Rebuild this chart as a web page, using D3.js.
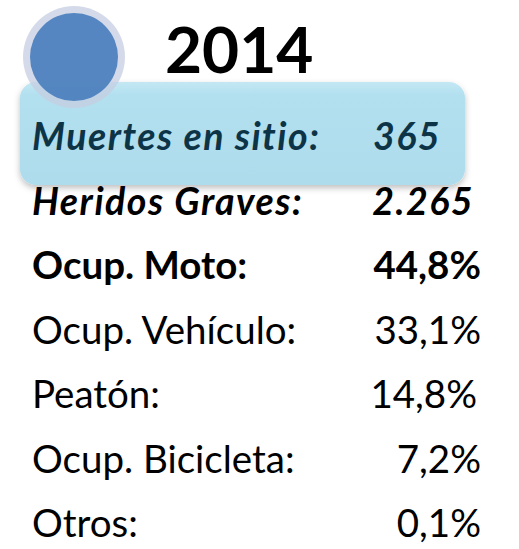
<!DOCTYPE html>
<html>
<head>
<meta charset="utf-8">
<script src="https://cdn.jsdelivr.net/npm/d3@7"></script>
<style>
  body { margin: 0; background: #fff; }
  text { font-family: Lato, "Open Sans", sans-serif; }
</style>
</head>
<body>
<div id="chart"></div>
<script>
// data
const year = "2014";
const categories = ["Muertes en sitio:", "Heridos Graves:", "Ocup. Moto:", "Ocup. Vehículo:", "Peatón:", "Ocup. Bicicleta:", "Otros:"];
const values = [365, 2265, 44.8, 33.1, 14.8, 7.2, 0.1];
const isPercent = [false, false, true, true, true, true, true];

// row styling (not data)
const rowStyle = ["bolditalic", "bolditalic", "bold", "normal", "normal", "normal", "normal"];
const rowColor = ["#0d3446", "#000", "#000", "#000", "#000", "#000", "#000"];
const rowRight = [441, 474, 481, 481, 477, 481, 481];

const width = 519, height = 549;

const es = d3.formatLocale({ decimal: ",", thousands: ".", grouping: [3], currency: ["$", ""] });
const fmtInt = es.format(",d");
const fmtPct = es.format(".1f");

const svg = d3.select('#chart').append('svg')
  .attr('width', width)
  .attr('height', height);

const defs = svg.append('defs');
const grad = defs.append('linearGradient')
  .attr('id', 'boxGrad').attr('x1', 0).attr('y1', 0).attr('x2', 0).attr('y2', 1);
grad.append('stop').attr('offset', '0%').attr('stop-color', '#c4e8f4');
grad.append('stop').attr('offset', '12%').attr('stop-color', '#b3e0ef');
grad.append('stop').attr('offset', '100%').attr('stop-color', '#aedcec');

const shadow = defs.append('filter').attr('id', 'shadow')
  .attr('x', '-10%').attr('y', '-20%').attr('width', '120%').attr('height', '150%');
shadow.append('feDropShadow')
  .attr('dx', 0).attr('dy', 3).attr('stdDeviation', 3)
  .attr('flood-color', '#000').attr('flood-opacity', 0.25);

// highlighted box behind the first row
svg.append('rect')
  .attr('x', 20).attr('y', 82)
  .attr('width', 445).attr('height', 103)
  .attr('rx', 16)
  .attr('fill', 'url(#boxGrad)')
  .attr('filter', 'url(#shadow)');

// circle bullet
svg.append('circle')
  .attr('cx', 74).attr('cy', 57).attr('r', 51)
  .attr('fill', '#c6cde2').attr('opacity', 0.75);
svg.append('circle')
  .attr('cx', 74).attr('cy', 57).attr('r', 44)
  .attr('fill', '#4a7fbd').attr('opacity', 0.92);

// title
svg.append('text')
  .attr('x', 165).attr('y', 73)
  .attr('font-size', 64)
  .attr('font-weight', 'bold')
  .attr('fill', '#000')
  .text(year);

// rows
const y = d3.scalePoint()
  .domain(categories)
  .range([150, 537]);

const rows = svg.selectAll('g.row')
  .data(categories.map((c, i) => ({ c, v: values[i], pct: isPercent[i], i })))
  .join('g')
  .attr('class', 'row')
  .attr('transform', d => `translate(0,${y(d.c)})`);

function styleText(sel) {
  sel.attr('font-size', d => rowStyle[d.i] === 'bolditalic' ? 37.5 : 38.5)
    .attr('letter-spacing', d => rowStyle[d.i] === 'bolditalic' ? 1.5 : 0)
    .attr('font-weight', d => rowStyle[d.i] === 'normal' ? 'normal' : 'bold')
    .attr('font-style', d => rowStyle[d.i] === 'bolditalic' ? 'italic' : 'normal')
    .attr('fill', d => rowColor[d.i]);
}

rows.append('text')
  .attr('x', 32)
  .call(styleText)
  .text(d => d.c);

rows.append('text')
  .attr('x', d => rowRight[d.i])
  .attr('text-anchor', 'end')
  .call(styleText)
  .text(d => d.pct ? fmtPct(d.v) + '%' : fmtInt(d.v));
</script>
</body>
</html>
